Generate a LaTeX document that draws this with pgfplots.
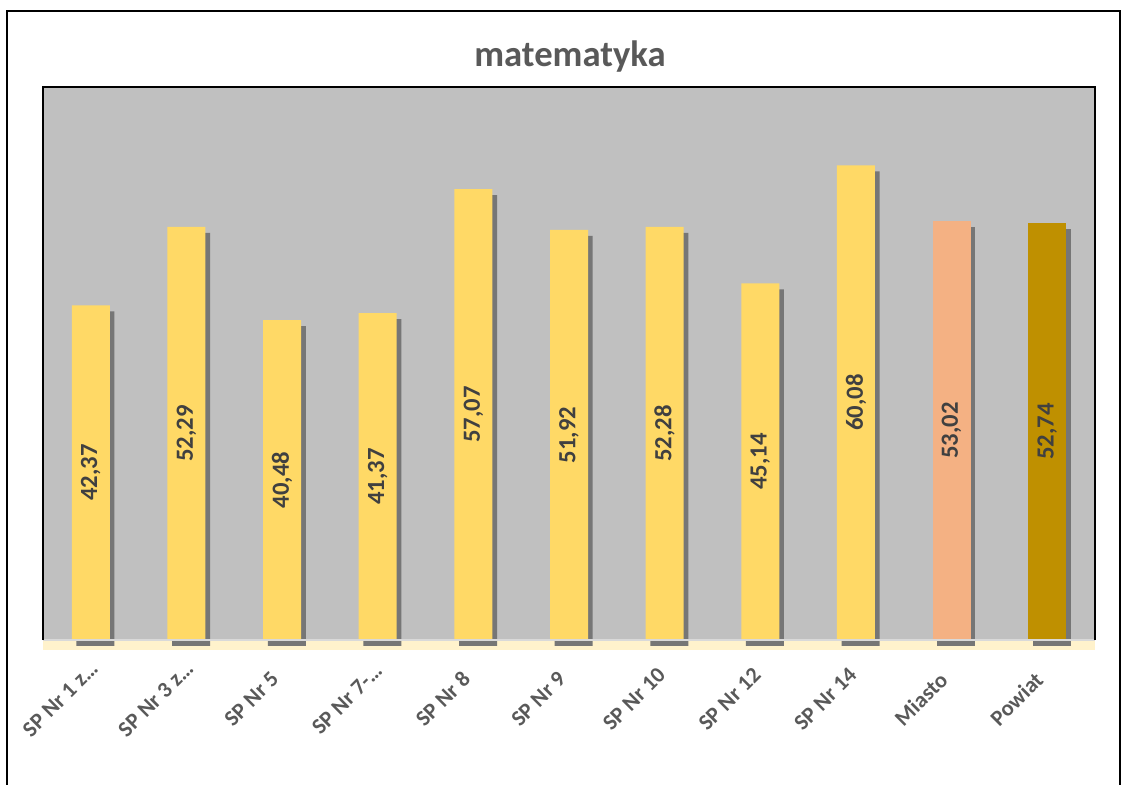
\documentclass[border=0pt]{standalone}
\usepackage{fontspec}
\setmainfont{Carlito}
\usepackage{pgfplots}
\pgfplotsset{compat=1.18}
\usetikzlibrary{shadows}
\definecolor{bg}{HTML}{C0C0C0}
\definecolor{barY}{HTML}{FFD966}
\definecolor{barM}{HTML}{F4B183}
\definecolor{barP}{HTML}{BF9000}
\definecolor{floorc}{HTML}{FFF2CC}
\definecolor{shadowc}{HTML}{767676}
\definecolor{titlegray}{HTML}{595959}
\definecolor{valgray}{HTML}{404040}
\begin{document}
\begin{tikzpicture}
\useasboundingbox (0,0) rectangle (846pt,588.75pt);
\draw[line width=1.5pt] (5.25pt,-3pt) -- (5.25pt,580.5pt) -- (840pt,580.5pt) -- (840pt,-3pt);
\node[font=\bfseries\fontsize{27.5}{32}\selectfont, text=titlegray] at (427.5pt,546pt) {matematyka};
\begin{axis}[
  at={(32.25pt,108.75pt)}, anchor=south west,
  width=789pt, height=414.75pt, scale only axis,
  xmin=-0.5, xmax=10.5, ymin=0, ymax=70,
  ybar, bar width=28.5pt, bar shift=0pt,
  axis background/.style={fill=bg},
  axis line style={draw=none},
  ytick=\empty,
  xtick={0,...,10}, xtick style={draw=none},
  xticklabels={SP Nr\ 1 z…,SP Nr\ 3 z…,SP Nr\ 5,SP Nr 7-…,SP Nr 8,SP Nr 9,SP Nr 10,SP Nr 12,SP Nr 14,Miasto,Powiat},
  xticklabel style={anchor=center, shift={(-23pt,-40pt)}, rotate=45, font=\bfseries\fontsize{16.7}{20}\selectfont, text=titlegray},
  clip=false,
]
\fill[floorc] (rel axis cs:0,0) rectangle ([yshift=-7.5pt]rel axis cs:1,0);
\addplot[fill=barY, draw=none, drop shadow={shadow xshift=3.5pt, shadow yshift=-4.5pt, fill=shadowc, opacity=1}] coordinates {
 (0,42.37) (1,52.29) (2,40.48) (3,41.37) (4,57.07) (5,51.92) (6,52.28) (7,45.14) (8,60.08)};
\addplot[fill=barM, draw=none, drop shadow={shadow xshift=3.5pt, shadow yshift=-4.5pt, fill=shadowc, opacity=1}] coordinates {(9,53.02)};
\addplot[fill=barP, draw=none, drop shadow={shadow xshift=3.5pt, shadow yshift=-4.5pt, fill=shadowc, opacity=1}] coordinates {(10,52.74)};
\draw[draw=black!15, line width=1pt] (rel axis cs:0,0) -- (rel axis cs:1,0);
\draw[black, line width=1.3pt] (rel axis cs:0,0) -- (rel axis cs:0,1) -- (rel axis cs:1,1) -- (rel axis cs:1,0);
\addplot[draw=none, fill=none,
  nodes near coords={\pgfmathprintnumber[fixed,fixed zerofill,precision=2,use comma,assume math mode=true]{\pgfplotspointmeta}},
  visualization depends on={rawy \as \rawy},
  every node near coord/.append style={shift={(axis direction cs:0,-\rawy/2)}, anchor=center, rotate=90, font=\bfseries\fontsize{18.5}{22}\selectfont, text=valgray}]
 coordinates {(0,42.37) (1,52.29) (2,40.48) (3,41.37) (4,57.07) (5,51.92) (6,52.28) (7,45.14) (8,60.08) (9,53.02) (10,52.74)};
\end{axis}
\end{tikzpicture}
\end{document}
